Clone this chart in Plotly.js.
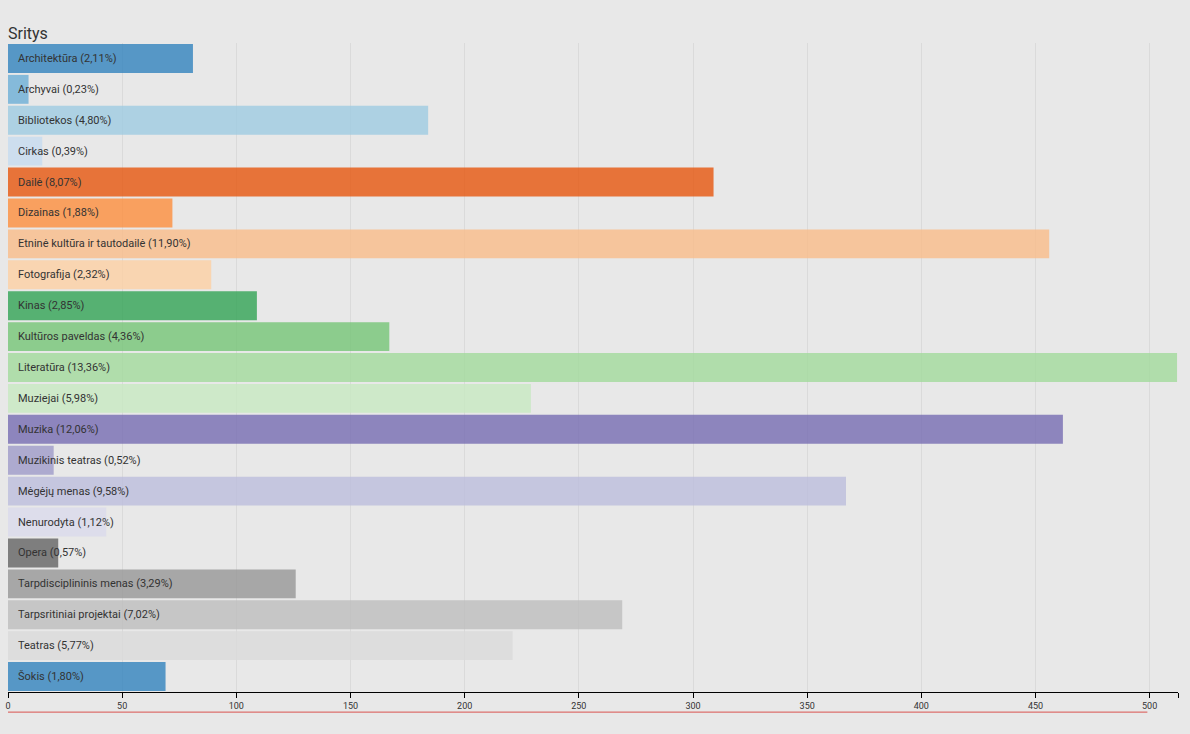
<!DOCTYPE html>
<html>
<head>
<meta charset="utf-8">
<script src="https://cdn.plot.ly/plotly-3.0.1.min.js"></script>
<style>
  html, body { margin: 0; padding: 0; background: #e8e8e8; }
  #chart { width: 1190px; height: 734px; }
</style>
</head>
<body>
<div id="chart"></div>
<script>
// Projects per field (counts)
const categories = [
  "Architektūra", "Archyvai", "Bibliotekos", "Cirkas", "Dailė", "Dizainas",
  "Etninė kultūra ir tautodailė", "Fotografija", "Kinas", "Kultūros paveldas",
  "Literatūra", "Muziejai", "Muzika", "Muzikinis teatras", "Mėgėjų menas",
  "Nenurodyta", "Opera", "Tarpdisciplininis menas", "Tarpsritiniai projektai",
  "Teatras", "Šokis"
];
const counts = [
  81, 9, 184, 15, 309, 72,
  456, 89, 109, 167,
  512, 229, 462, 20, 367,
  43, 22, 126, 269,
  221, 69
];
const palette = [
  "#3182bd", "#6baed6", "#9ecae1", "#c6dbef", "#e6550d", "#fd8d3c", "#f9bb88", "#fdd0a2",
  "#31a354", "#74c476", "#a1d99b", "#c7e9c0", "#756bb1", "#9e9ac8", "#bcbddc", "#dadaeb",
  "#636363", "#969696", "#bdbdbd", "#d9d9d9"
];
const xTicks = [0, 50, 100, 150, 200, 250, 300, 350, 400, 450, 500];

const total = counts.reduce((a, b) => a + b, 0);
const fmtPct = v => (v / total * 100).toFixed(2).replace(".", ",");
const labels = categories.map((c, i) => c + " (" + fmtPct(counts[i]) + "%)");
const colors = categories.map((c, i) => palette[i % palette.length]);
const xMax = Math.max(...counts) * 1.0008;

const trace = {
  type: "bar",
  orientation: "h",
  y: categories,
  x: counts,
  marker: { color: colors, opacity: 0.8, line: { width: 0 } },
  hoverinfo: "none"
};

const annotations = categories.map((c, i) => ({
  x: 0, y: c, xref: "x", yref: "y",
  xanchor: "left", yanchor: "middle", xshift: 8,
  text: labels[i], showarrow: false,
  font: { family: "Roboto, sans-serif", size: 11, color: "#333" }
}));
annotations.push({
  x: 0, y: 1, xref: "paper", yref: "paper",
  xanchor: "left", yanchor: "bottom", yshift: -2, xshift: -2,
  text: "Sritys", showarrow: false,
  font: { family: "Roboto, sans-serif", size: 16, color: "#333" }
});

const layout = {
  width: 1190, height: 734,
  margin: { l: 8, r: 12, t: 43, b: 42 },
  paper_bgcolor: "#e8e8e8",
  plot_bgcolor: "#e8e8e8",
  bargap: 0.065,
  showlegend: false,
  xaxis: {
    range: [0, xMax],
    tickvals: xTicks.concat([xMax]),
    ticktext: xTicks.map(String).concat([""]),
    ticks: "outside", ticklen: 5, tickwidth: 1, tickcolor: "#000",
    showline: true, linecolor: "#000", linewidth: 1,
    showgrid: true, gridcolor: "#dadada", gridwidth: 1,
    zeroline: false,
    tickfont: { family: "Roboto, sans-serif", size: 9, color: "#333" }
  },
  yaxis: {
    autorange: "reversed",
    showticklabels: false, ticks: "", showgrid: false, zeroline: false, showline: false
  },
  annotations: annotations,
  shapes: [{
    type: "line", xref: "x", yref: "paper",
    x0: 0, x1: 499, y0: -0.031, y1: -0.031,
    line: { color: "#d9534f", width: 1 }
  }]
};

Plotly.newPlot("chart", [trace], layout, { displayModeBar: false, staticPlot: true });
</script>
</body>
</html>
